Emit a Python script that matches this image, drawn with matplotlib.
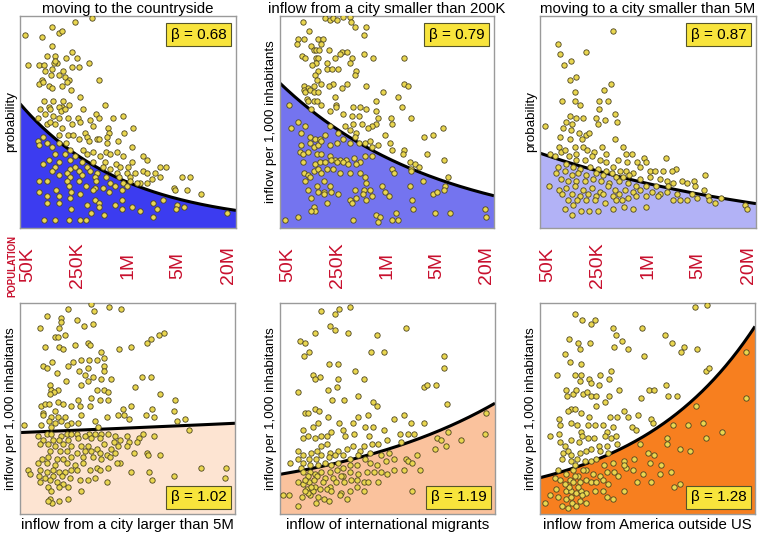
import numpy as np
import matplotlib
matplotlib.use("Agg")
import matplotlib.pyplot as plt

plt.rcParams['font.family'] = ['Liberation Sans', 'DejaVu Sans']

# ---------------- data ----------------
XMIN, XMAX = 4.6, 7.4            # log10(population)
tick_pos = [4.7, 5.35, 6.0, 6.65, 7.3]
tick_labels = ['50K', '250K', '1M', '5M', '20M']

titles_top = ['moving to the countryside',
              'inflow from a city smaller than 200K',
              'moving to a city smaller than 5M']
xlabels_bottom = ['inflow from a city larger than 5M',
                  'inflow of international migrants',
                  'inflow from America outside US']
ylabels = ['probability', 'inflow per 1,000 inhabitants', 'probability',
           'inflow per 1,000 inhabitants', 'inflow per 1,000 inhabitants',
           'inflow per 1,000 inhabitants']

betas = [0.68, 0.79, 0.87, 1.02, 1.19, 1.28]
fit_at_min = [58.6, 68.3, 35.3, 38.6, 18.8, 17.2]   # fitted value at smallest population
fit_at_max = [8.3, 15.2, 11.5, 43.0, 52.5, 88.9]    # fitted value at largest population

countryside = [(4.66,91),(5.02,95),(5.31,97),(5.53,99),(4.89,90),(5.11,92),(5.15,93),(5.02,86),(5.28,83),(4.95,81),(5.05,81),(5.08,78),(5.04,78),(5.19,80),(5.34,80),(5.50,78),(4.71,77),(4.84,77),(4.91,77),(5.01,75),(5.06,79),(4.92,74),(5.16,74),(5.27,76),(5.37,76),(4.88,70),(4.85,68),(4.90,69),(5.00,72),(5.11,72),(5.18,71),(5.23,70),(5.63,70),(4.98,67),(5.02,66),(5.15,67),(5.26,65),(5.21,69),(5.38,62),(4.91,60),(5.03,60),(5.16,60),(5.15,57),(4.97,57),(5.10,57),(5.23,58),(5.70,58),(4.86,56),(4.99,56),(5.13,55),(5.18,56),(5.42,56),(5.59,54),(4.83,52),(4.92,54),(5.03,53),(5.10,52),(5.22,52),(5.35,52),(5.51,51),(5.63,52),(5.81,52),(5.93,53),(4.95,49),(4.99,50),(5.05,49),(5.15,47),(5.27,49),(5.38,50),(5.54,48),(5.74,47),(5.76,45),(6.07,47),(5.95,45),(4.90,43),(5.11,44),(5.22,44),(5.29,44),(5.44,45),(5.47,43),(5.60,42),(5.73,43),(4.83,41),(4.95,40),(5.10,40),(5.20,40),(5.37,42),(5.50,41),(5.63,42),(5.73,40),(5.87,41),(4.85,39),(5.01,38),(5.25,37),(5.42,37),(5.55,36),(5.71,36),(5.86,36),(6.05,38),(5.05,35),(5.18,35),(5.31,34),(5.47,35),(5.64,34),(5.77,35),(5.94,34),(6.19,34),(6.25,32),(4.98,32),(5.11,31),(5.25,32),(5.40,31),(5.55,31),(5.70,31),(5.85,30),(6.05,31),(4.90,30),(5.05,29),(5.25,28),(5.31,29),(5.47,29),(5.68,29),(5.77,28),(5.90,29),(6.00,29),(6.41,29),(6.49,29),(5.01,27),(5.21,26),(5.37,27),(5.51,27),(5.60,26),(5.86,26),(5.99,26),(6.09,26),(6.19,27),(6.25,26),(6.35,26),(6.70,24),(6.80,24),(5.10,25),(5.25,24),(5.41,25),(5.57,24),(5.72,24),(5.88,24),(6.02,24),(6.31,23),(6.41,24),(4.95,22),(5.21,22),(5.37,22),(5.58,22),(5.77,21),(5.94,21),(6.03,22),(6.15,21),(6.25,21),(4.85,22),(5.23,20),(5.45,20),(5.57,19),(5.68,19),(5.83,20),(5.99,20),(6.12,21),(6.60,19),(6.61,18),(6.77,18),(6.95,16),(5.07,18),(5.26,17),(5.55,18),(5.76,17),(5.92,18),(4.84,17),(4.95,15),(5.11,15),(5.25,14),(5.38,16),(5.57,13),(5.62,12),(5.92,13),(6.32,12),(6.46,13),(6.63,11),(6.73,10),(4.95,12),(5.11,12),(5.26,9),(5.47,11),(5.62,10),(5.83,11),(6.05,10),(6.16,8),(6.37,9),(6.62,9),(7.28,7),(5.06,4),(5.23,4),(5.38,4),(5.46,4),(4.91,4),(5.52,7),(5.69,6),(6.33,5),(5.92,9)]

from_small_city = [(5.19,99),(5.25,98),(5.30,99),(5.35,98),(5.43,99.5),(5.51,99.5),(5.53,97),(5.58,95),(4.90,97),(4.98,93),(5.73,95),(5.70,91),(4.84,89),(4.82,87),(4.92,89),(5.10,89),(5.16,89),(5.13,87),(5.01,86),(5.04,84),(5.07,84),(5.11,84),(5.24,84),(5.41,83),(5.48,83),(5.38,82),(5.70,82),(4.89,81),(4.93,80),(5.07,80),(5.10,80),(5.32,80),(5.54,80),(5.82,80),(6.22,80),(5.21,78),(5.52,78),(5.07,78),(5.02,77),(5.36,75),(5.60,74),(5.21,75),(5.28,75),(5.10,74),(5.06,72),(5.58,72),(5.09,70),(4.92,67),(4.97,66),(5.04,67),(5.14,68),(5.30,68),(5.24,67),(5.48,68),(5.41,66),(5.73,67),(5.95,64),(6.22,68),(6.27,67),(4.91,65),(4.93,64),(4.99,65),(5.04,64),(5.10,64),(4.95,61),(5.04,60),(5.32,62),(4.96,60),(5.08,60),(5.14,58),(5.33,58),(5.55,57),(5.65,57),(5.72,56),(5.86,60),(6.15,62),(6.20,57),(6.32,52),(5.33,57),(5.01,56),(5.25,55),(5.43,54),(5.54,53),(5.64,53),(5.85,55),(5.88,52),(5.86,49),(5.81,48),(6.05,52),(6.06,49),(5.67,49),(5.56,49),(5.75,47),(5.26,48),(5.45,48),(5.51,46),(5.59,45),(5.98,44),(6.49,43),(6.60,44),(6.73,47),(4.84,50),(4.72,58),(4.74,47),(4.93,48),(4.88,45),(4.99,43),(5.06,42),(5.12,42),(5.19,44),(5.36,45),(5.35,40),(4.88,39),(4.99,40),(5.04,38),(5.10,39),(5.14,41),(5.25,39),(5.43,42),(5.51,40),(5.58,43),(5.64,40),(5.71,40),(5.78,41),(5.80,38),(5.88,39),(6.04,40),(6.07,37),(6.22,37),(6.21,35),(6.52,35),(6.74,32),(4.86,36),(4.90,35),(4.97,36),(5.08,35),(5.14,35),(5.25,34),(5.32,32),(5.38,32),(5.47,32),(5.57,33),(5.65,31),(5.71,34),(5.80,34),(6.30,31),(6.37,30),(6.42,29),(6.32,28),(4.90,31),(5.06,30),(5.12,31),(5.19,31),(5.27,32),(5.34,31),(5.43,31),(5.49,30),(5.59,30),(5.04,27),(5.10,28),(5.21,28),(5.30,28),(5.38,26),(5.51,26),(5.65,26),(6.06,28),(6.09,26),(4.92,26),(4.97,25),(4.99,24),(5.14,26),(6.31,27),(6.47,22),(6.80,24),(4.93,22),(5.08,20),(5.17,22),(5.25,20),(5.71,24),(5.72,21),(5.93,20),(5.78,18),(5.70,18),(4.97,18),(5.10,17),(5.17,17),(5.27,17),(5.58,18),(6.30,20),(6.76,20),(6.75,18),(6.60,16),(5.97,17),(5.01,14),(5.04,10),(5.17,16),(5.36,16),(5.51,13),(5.60,14),(5.68,16),(5.80,15),(6.02,15),(6.33,13),(6.65,17),(5.06,8),(5.21,12),(5.01,8),(5.54,12),(5.73,13),(5.86,6),(5.91,5),(6.12,7),(6.15,4),(6.06,4),(6.34,9),(6.63,7),(6.83,7),(7.28,9),(7.29,5),(4.67,4),(4.84,5),(5.56,4),(5.88,3)]

to_city_below_5m = [(5.54,93),(4.83,87),(4.86,82),(5.19,83),(5.00,79),(4.91,77),(5.07,71),(4.99,70),(5.06,64),(5.52,68),(5.43,65),(4.89,60),(5.05,60),(5.12,58),(5.37,60),(5.48,60),(5.37,56),(5.57,54),(4.99,53),(5.07,52),(5.16,52),(4.94,50),(5.02,49),(5.33,52),(5.35,49),(5.44,51),(5.60,50),(4.67,48),(4.90,47),(4.86,43),(5.00,46),(5.11,45),(5.19,44),(5.24,45),(4.99,42),(5.14,42),(5.05,38),(5.16,38),(4.84,38),(4.87,36),(4.93,37),(5.07,35),(5.21,37),(5.30,36),(5.40,38),(5.46,35),(5.57,42),(5.68,38),(5.72,35),(5.79,35),(5.95,33),(5.98,31),(6.23,33),(6.36,28),(4.73,35),(4.79,34),(4.97,34),(5.07,32),(5.18,32),(5.27,34),(5.38,32),(5.46,31),(5.61,32),(5.73,31),(5.86,31),(5.89,29),(6.02,27),(6.09,27),(6.20,27),(6.31,27),(6.44,22),(6.50,21),(6.60,22),(6.74,25),(6.61,20),(4.83,29),(4.94,30),(5.03,29),(5.12,28),(5.25,29),(5.35,28),(5.45,27),(5.55,29),(5.64,27),(5.72,27),(5.81,26),(4.81,26),(4.92,27),(5.01,25),(5.09,26),(5.20,25),(5.33,26),(5.42,25),(5.53,26),(5.58,24),(5.67,24),(5.76,25),(5.89,23),(6.02,24),(6.15,23),(6.24,22),(6.33,21),(4.87,23),(4.96,22),(5.07,22),(5.18,22),(5.29,23),(5.39,22),(5.50,21),(5.63,22),(5.74,21),(5.85,20),(5.98,20),(6.11,20),(6.26,20),(4.72,20),(4.84,18),(4.94,19),(5.05,20),(5.16,18),(5.27,19),(5.38,17),(5.48,20),(5.57,18),(5.70,18),(5.80,17),(5.89,18),(6.05,17),(6.16,16),(6.24,17),(6.37,16),(6.57,16),(6.72,18),(4.89,16),(5.01,16),(5.12,15),(5.22,16),(5.33,15),(5.42,16),(5.54,15),(5.63,16),(5.74,14),(5.85,15),(5.98,15),(6.13,15),(6.33,13),(6.41,13),(6.50,13),(6.63,14),(6.78,15),(6.79,13),(4.96,13),(5.08,13),(5.20,13),(5.31,13),(5.44,12),(5.59,13),(5.66,13),(4.92,9),(5.03,11),(5.13,8),(5.02,6),(5.24,8),(5.35,8),(5.55,9),(5.69,10),(5.81,9),(5.97,10),(6.95,14),(7.26,11),(7.28,9),(6.87,12)]

from_large_city = [(5.52,99.5),(5.22,97),(5.76,98),(5.92,97),(4.95,94),(5.57,96),(5.13,93),(5.14,91),(5.34,92),(5.43,89),(5.55,90),(4.86,88),(5.11,88),(5.18,85),(5.05,84),(5.10,84),(5.48,81),(5.51,80),(4.92,79),(5.11,79),(5.16,78),(5.32,80),(5.66,77),(5.89,78),(6.05,79),(6.26,81),(6.31,83),(6.41,85),(6.47,86),(5.02,72),(4.90,70),(5.23,70),(5.29,72),(5.39,73),(5.50,73),(5.60,73),(5.70,74),(4.95,69),(5.49,69),(5.69,70),(5.70,68),(5.08,67),(5.37,68),(5.44,66),(5.55,65),(5.78,64),(6.19,65),(6.31,65),(5.20,63),(5.48,63),(5.66,64),(4.99,61),(5.40,61),(5.00,59),(5.10,59),(5.04,58),(4.99,57),(5.60,59),(5.70,59),(5.75,58),(6.10,60),(6.42,57),(4.87,51),(4.93,52),(4.98,52),(4.90,48),(5.10,53),(5.16,52),(5.06,49),(5.26,51),(5.36,54),(5.38,51),(5.51,51),(5.52,55),(5.64,54),(5.74,54),(5.94,50),(6.05,51),(6.02,45),(6.32,50),(6.62,54),(6.60,49),(4.90,47),(5.01,46),(5.10,46),(5.18,46),(4.98,44),(5.06,43),(5.14,44),(5.27,43),(5.36,43),(5.58,44),(5.61,41),(5.73,46),(5.88,47),(5.95,47),(6.24,47),(6.35,46),(6.64,44),(6.75,45),(6.80,40),(4.65,42),(4.87,42),(5.00,41),(5.21,42),(5.39,47),(4.95,38),(5.01,38),(5.13,37),(5.21,38),(5.27,38),(5.34,38),(5.50,38),(5.58,38),(5.74,38),(5.66,38),(5.84,37),(5.99,37),(6.20,38),(6.15,36),(6.34,37),(4.83,37),(4.90,35),(5.03,35),(5.11,35),(5.23,35),(5.36,36),(5.44,37),(5.53,36),(5.64,36),(5.82,34),(5.90,35),(6.02,34),(4.86,33),(4.97,33),(5.06,32),(5.16,33),(5.27,32),(5.40,32),(5.49,32),(5.60,31),(5.69,33),(5.79,31),(5.88,32),(6.00,32),(6.12,34),(4.99,30),(5.12,30),(5.21,30),(5.34,29),(5.45,30),(5.53,30),(5.64,29),(5.73,28),(5.84,29),(6.08,29),(6.25,29),(6.42,28),(4.88,26),(4.97,27),(5.08,26),(5.16,26),(5.27,27),(5.42,27),(5.55,27),(5.66,26),(5.77,27),(5.90,24),(6.27,28),(4.84,24),(4.95,24),(5.06,23),(5.21,24),(5.32,23),(5.42,24),(5.60,22),(5.74,22),(5.86,24),(4.86,21),(4.95,20),(5.03,21),(5.11,20),(5.19,20),(5.27,21),(5.34,21),(5.51,21),(5.64,21),(6.05,20),(6.28,20),(6.61,18),(6.96,22),(7.28,22),(4.71,21),(4.73,19),(4.85,18),(4.93,17),(5.03,18),(5.15,18),(5.25,17),(5.38,16),(5.48,16),(5.58,17),(5.73,15),(6.32,16),(7.27,17),(4.86,15),(4.99,16),(5.08,15),(5.16,14),(4.97,13),(5.11,13),(5.22,13),(5.39,11),(4.99,7),(5.02,5),(4.96,6),(5.11,6),(5.23,7),(5.01,11)]

international = [(5.51,98),(5.37,97),(5.14,96),(5.32,95),(5.25,89),(5.31,87),(5.06,86),(5.49,86),(6.24,88),(5.86,85),(4.86,82),(4.93,81),(4.98,77),(4.91,75),(5.78,77),(5.95,77),(5.24,71),(5.35,71),(5.03,66),(5.12,65),(5.05,64),(5.58,68),(5.35,64),(5.69,64),(5.34,60),(4.83,58),(5.22,59),(6.47,60),(6.51,61),(6.63,61),(6.73,75),(6.74,69),(6.77,52),(5.43,54),(5.62,56),(5.81,53),(5.28,54),(5.05,50),(5.11,49),(4.93,48),(4.97,48),(5.23,46),(5.86,51),(5.75,47),(6.22,47),(5.62,46),(5.37,43),(5.09,43),(5.03,41),(5.55,43),(5.71,41),(5.81,41),(5.95,40),(6.08,45),(6.31,43),(6.47,43),(6.79,39),(7.28,48),(7.27,38),(4.90,40),(4.90,36),(4.97,37),(5.06,36),(5.13,37),(5.21,37),(5.26,39),(5.42,40),(5.44,37),(5.56,38),(5.76,37),(5.80,33),(5.88,33),(6.00,35),(6.16,38),(6.27,38),(6.35,38),(6.18,34),(6.64,36),(6.70,35),(6.96,35),(6.76,32),(6.62,31),(4.73,24),(4.84,30),(4.90,28),(5.01,29),(5.08,30),(5.14,32),(5.21,33),(5.25,29),(5.36,30),(5.47,31),(5.55,32),(5.64,30),(4.84,26),(4.90,24),(4.98,26),(5.07,26),(5.14,28),(5.24,27),(5.32,28),(5.42,28),(5.51,26),(5.62,28),(5.70,32),(5.77,29),(5.92,28),(6.02,29),(6.08,26),(6.24,26),(6.27,25),(6.32,24),(6.38,28),(4.87,22),(4.99,23),(5.10,23),(5.19,24),(5.27,23),(5.36,24),(5.42,22),(5.51,23),(5.60,23),(5.71,26),(5.77,24),(5.86,23),(5.98,25),(6.08,21),(6.21,21),(6.42,21),(4.90,20),(4.99,20),(5.06,19),(5.14,20),(5.25,20),(5.34,21),(5.42,18),(5.51,20),(5.62,19),(5.73,20),(5.82,20),(5.92,20),(6.00,19),(4.96,18),(5.08,18),(5.19,17),(5.29,17),(5.40,18),(5.60,16),(5.69,15),(5.88,15),(4.83,15),(4.90,14),(4.98,15),(5.06,13),(5.16,15),(5.25,13),(5.33,15),(5.43,15),(5.53,16),(5.75,15),(4.95,12),(5.03,11),(5.12,12),(5.21,12),(5.27,11),(5.40,10),(5.51,11),(5.60,13),(5.70,11),(6.32,11),(4.88,8),(4.99,9),(5.07,5),(5.17,7),(5.24,6),(5.38,9),(5.47,7),(4.64,9),(4.72,9),(4.84,4),(4.93,16),(4.96,10),(5.00,13),(5.04,16),(5.09,8),(4.92,11)]

america = [(6.62,98),(6.78,99),(5.05,95),(5.15,92),(5.27,90),(5.32,92),(5.55,88),(5.93,88),(6.23,85),(5.59,85),(4.98,83),(5.09,81),(5.25,81),(5.67,82),(6.32,81),(5.57,79),(5.12,78),(5.74,78),(6.48,79),(6.43,77),(6.65,78),(4.93,76),(5.96,75),(4.99,72),(5.13,71),(5.53,68),(4.82,66),(5.05,66),(5.13,66),(5.12,63),(5.24,64),(5.38,66),(5.37,61),(5.27,62),(5.50,64),(6.76,68),(6.80,69),(4.94,59),(4.95,56),(5.03,57),(5.07,59),(5.16,57),(5.21,58),(5.26,56),(5.33,56),(5.50,56),(5.63,59),(5.91,55),(6.02,59),(6.08,59),(6.27,56),(6.39,56),(6.24,61),(7.28,77),(7.28,55),(6.63,51),(5.00,50),(5.06,50),(4.97,49),(5.14,48),(5.33,51),(5.44,53),(5.51,46),(5.60,46),(5.69,49),(5.75,46),(5.87,47),(6.05,45),(6.07,43),(4.73,37),(4.85,45),(4.86,42),(4.85,38),(5.00,43),(5.08,42),(5.13,39),(5.22,42),(5.24,46),(5.32,42),(5.42,42),(5.47,39),(5.55,41),(5.80,41),(5.85,40),(5.44,37),(5.52,36),(5.59,37),(5.60,33),(4.86,34),(4.92,32),(5.01,35),(5.11,34),(5.15,37),(5.23,36),(5.30,36),(5.37,32),(5.47,32),(6.25,36),(6.33,42),(6.53,42),(6.72,43),(6.76,36),(6.97,39),(6.26,33),(4.90,29),(4.96,30),(5.01,28),(5.12,29),(5.20,30),(5.27,31),(5.38,30),(5.48,29),(5.70,25),(5.72,22),(5.82,26),(5.90,33),(6.00,29),(6.09,28),(6.18,23),(6.03,24),(6.42,31),(6.55,30),(4.89,26),(5.00,25),(5.08,26),(5.18,25),(5.27,25),(5.33,26),(5.43,23),(5.55,24),(5.69,23),(5.81,21),(5.94,19),(6.16,19),(6.30,20),(4.84,21),(4.94,19),(5.03,21),(5.10,18),(5.20,21),(5.29,19),(5.38,18),(5.47,20),(5.57,20),(5.62,18),(5.86,15),(6.05,15),(6.34,13),(6.42,14),(4.79,17),(4.86,16),(4.99,16),(5.03,15),(5.12,15),(5.20,16),(5.27,15),(5.33,15),(5.42,16),(5.49,14),(5.70,11),(4.81,12),(4.94,11),(5.01,11),(5.07,10),(5.13,11),(5.20,10),(5.31,11),(5.42,11),(5.47,8),(5.55,7),(4.83,8),(4.94,7),(5.02,5),(5.12,6),(4.97,3),(4.89,4),(5.07,4),(5.20,5),(4.73,9),(4.66,5),(4.98,13),(5.05,18),(5.10,13),(5.15,9),(4.92,14),(5.00,8),(5.16,21),(5.05,23)]

panel_points = [countryside, from_small_city, to_city_below_5m,
                from_large_city, international, america]

fill_colors = ['#3c3cf0', '#7474ef', '#b2b2f6', '#fde4d2', '#fac29d', '#f77f1f']
RED = '#c8102e'

# ---------------- layout ----------------
W, H = 760, 534
rects_px = [(20, 16, 216, 212), (280, 16, 214, 212), (540, 16, 216, 212),
            (20, 303, 215, 211), (280, 303, 215, 211), (540, 303, 215, 211)]

fig = plt.figure(figsize=(W / 100, H / 100), dpi=100)


def fit_curve(beta, y_lo, y_hi, x):
    g = 10 ** ((beta - 1) * (x - XMIN))
    G = 10 ** ((beta - 1) * (XMAX - XMIN))
    return y_lo + (y_hi - y_lo) * (g - 1) / (G - 1)


xs = np.linspace(XMIN, XMAX, 400)
for i in range(6):
    l, t, w, h = rects_px[i]
    ax = fig.add_axes([l / W, 1 - (t + h) / H, w / W, h / H])
    ax.set_xlim(XMIN, XMAX)
    ax.set_ylim(0, 100)
    ys = fit_curve(betas[i], fit_at_min[i], fit_at_max[i], xs)
    ax.fill_between(xs, 0, ys, color=fill_colors[i], lw=0, zorder=1)
    ax.plot(xs, ys, color='black', lw=2.2, zorder=2, solid_capstyle='butt')
    pts = np.array(panel_points[i], dtype=float)
    ax.scatter(pts[:, 0], pts[:, 1], s=15, c='#e9d64f', edgecolors='#4d4520',
               linewidths=0.6, zorder=3)
    for sp in ax.spines.values():
        sp.set_color('#9a9a9a')
        sp.set_linewidth(1.0)
    ax.set_yticks([])
    ax.set_ylabel(ylabels[i], fontsize=9.6, labelpad=2)
    top = i < 3
    if top:
        ax.set_xticks(tick_pos)
        ax.set_xticklabels(tick_labels, rotation=90, va='center', color=RED,
                           fontsize=14)
        ax.tick_params(axis='x', length=0, pad=26.6)
        ax.set_title(titles_top[i], fontsize=10.8, pad=2.5)
        bx, by, bva = 0.956, 0.945, 'top'
    else:
        ax.set_xticks([])
        ax.set_xlabel(xlabels_bottom[i - 3], fontsize=10.8, labelpad=3)
        bx, by, bva = 0.96, 0.046, 'bottom'
    ax.text(bx, by, 'β = %.2f' % betas[i], transform=ax.transAxes,
            ha='right', va=bva, fontsize=11, zorder=5,
            bbox=dict(boxstyle='square,pad=0.3', fc='#f8e43c', ec='#55552a', lw=0.8))

fig.text(12.5 / W, 1 - 266 / H, 'POPULATION', rotation=90, color=RED,
         fontsize=6.9, fontweight='bold', ha='center', va='center')

fig.savefig('out.png', dpi=100)
